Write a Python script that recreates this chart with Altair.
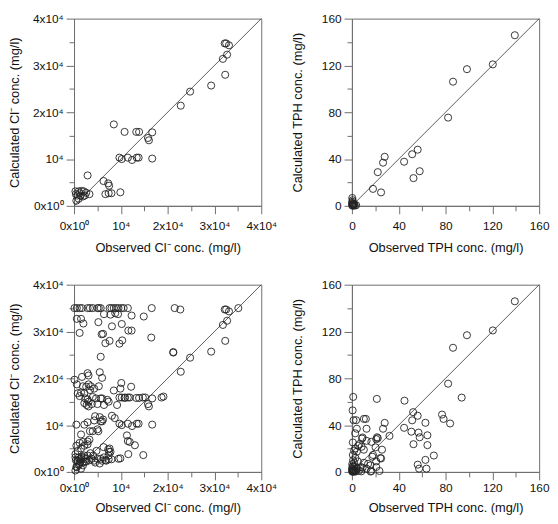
import altair as alt
import pandas as pd

# ---------------- data ----------------
# Top-left: Cl- (units of 1e4 mg/l)
tl_obs = [3.22, 3.25, 3.31, 3.27, 3.18, 3.23, 2.93, 2.48, 2.28, 0.85, 1.08, 1.33, 1.39, 1.67, 1.58,
          1.60, 0.97, 1.02, 1.15, 1.24, 1.34, 1.38, 1.67, 0.29, 0.63, 0.73, 0.75, 0.67, 0.74, 0.80,
          0.99, 0.03, 0.10, 0.16, 0.21, 0.26, 0.33, 0.07, 0.14, 0.19, 0.10, 0.05, 0.23, 0.04, 0.12]
tl_calc = [3.47, 3.47, 3.43, 3.23, 3.14, 2.80, 2.57, 2.44, 2.14, 1.74, 1.58, 1.58, 1.58, 1.57, 1.45,
           1.40, 1.03, 1.00, 1.03, 0.98, 1.03, 1.03, 1.01, 0.65, 0.53, 0.48, 0.43, 0.25, 0.27, 0.27,
           0.29, 0.31, 0.31, 0.32, 0.31, 0.28, 0.25, 0.22, 0.22, 0.20, 0.15, 0.11, 0.22, 0.25, 0.27]

# Bottom-left: additional Cl- points (units of 1e4 mg/l), shown together with the top-left ones
bl_obs_extra = [0.01, 0.06, 0.12, 0.17, 0.29, 0.34, 0.40, 0.50, 0.53, 0.57, 0.76, 0.80, 0.85, 0.90,
                0.95, 1.01, 1.06, 1.15, 1.66, 2.15, 2.27, 3.51,
                0.06, 0.15, 0.20, 0.12, 0.52, 0.64, 0.78, 0.81, 0.88, 0.94, 1.02, 1.23, 1.16, 1.23,
                1.49, 1.65, 0.59, 0.62, 0.67, 0.76, 0.97, 1.03, 0.57, 2.12, 2.12,
                0.01, 0.06, 0.17, 0.29, 0.31, 0.19, 0.26, 0.31, 0.36, 0.08, 0.15, 0.22, 0.34, 0.43,
                0.53, 0.55, 0.60, 1.01, 0.99, 1.22, 0.24, 0.29, 0.22, 0.27, 0.31, 0.38, 0.47, 0.57,
                0.60, 0.50, 0.64, 0.71, 0.74, 0.92, 0.97, 1.02, 1.09, 1.15, 1.19, 1.47, 1.52, 1.87,
                1.91, 0.31, 0.12, 0.40,
                0.05, 0.22, 0.29, 0.45, 0.55, 0.43, 0.57, 0.60, 0.62, 0.34, 0.40, 0.50, 0.52, 0.15,
                0.81, 0.87, 1.13, 1.15, 1.19, 1.30, 1.16, 1.48,
                0.05, 0.12, 0.19, 0.33, 0.29, 0.22, 0.15, 0.08, 0.03, 0.08, 0.15, 0.22, 0.29, 0.12,
                0.26, 0.38, 0.41, 0.43, 0.50, 0.57, 0.60, 0.64, 0.69, 0.76, 0.78, 0.74, 0.95, 0.19,
                0.06, 0.15, 0.03, 0.45, 0.55, 0.35, 0.48]
bl_calc_extra = [3.50, 3.50, 3.50, 3.50, 3.50, 3.50, 3.50, 3.50, 3.50, 3.50, 3.50, 3.50, 3.50, 3.50,
                 3.50, 3.50, 3.50, 3.50, 3.50, 3.50, 3.47, 3.50,
                 3.27, 3.27, 3.17, 2.97, 3.20, 3.37, 3.36, 3.11, 3.39, 3.37, 3.16, 3.34, 3.02, 3.02,
                 3.32, 2.87, 2.94, 2.95, 2.75, 2.80, 2.74, 2.81, 2.46, 2.55, 2.56,
                 1.97, 1.87, 2.03, 2.11, 2.06, 1.83, 1.82, 1.87, 1.83, 1.68, 1.70, 1.68, 1.75, 1.78,
                 1.83, 2.13, 2.01, 1.90, 1.78, 1.82, 1.57, 1.55, 1.47, 1.43, 1.50, 1.45, 1.57, 1.57,
                 1.57, 1.45, 1.43, 1.54, 1.50, 1.43, 1.59, 1.59, 1.59, 1.59, 1.59, 1.59, 1.59, 1.59,
                 1.61, 1.40, 1.62, 1.60,
                 1.01, 1.01, 1.06, 1.19, 1.17, 1.10, 1.08, 1.08, 1.12, 0.87, 0.87, 0.91, 0.87, 0.80,
                 1.20, 1.15, 0.78, 0.66, 0.64, 0.57, 0.38, 0.36,
                 0.56, 0.62, 0.64, 0.69, 0.59, 0.56, 0.50, 0.45, 0.38, 0.24, 0.28, 0.35, 0.35, 0.17,
                 0.22, 0.28, 0.35, 0.24, 0.28, 0.28, 0.24, 0.31, 0.24, 0.50, 0.43, 0.35, 0.28, 0.14,
                 0.10, 0.07, 0.03, 0.20, 0.18, 0.40, 0.45]

# Top-right: TPH (mg/l)
tr_obs = [139.2, 120.4, 98.3, 86.4, 82.2, 56.2, 51.5, 44.6, 57.9, 52.6, 28.0, 26.6, 22.1, 18.0, 24.9,
          0.3, 0.5, 1.0, 0.2, 1.5, 3.6, 0.8, 0.3, 2.0, 0.6, 1.2, 0.1, 2.5]
tr_calc = [145.8, 120.9, 116.8, 106.1, 75.4, 48.0, 44.1, 37.7, 29.6, 23.7, 41.9, 36.9, 28.8, 14.5, 11.5,
           6.7, 3.5, 2.0, 1.0, 0.5, 0.6, 0.3, 0.2, 1.5, 4.8, 1.2, 2.5, 0.2]

# Bottom-right: additional TPH points (mg/l), shown together with the top-right ones
br_obs_extra = [93.8, 77.0, 78.3, 83.9, 62.8, 64.5, 64.5, 70.0, 62.8, 63.7, 56.2, 57.4, 56.9, 50.8,
                52.3, 44.9, 21.3, 1.1, 0.6, 1.4, 3.6, 10.2, 11.9, 4.2, 12.5, 2.8, 32.1, 20.8, 9.1,
                12.5, 16.6, 0.8, 6.4, 5.3, 8.3, 2.8, 1.9, 4.2, 10.2, 20.2, 25.7, 20.8, 15.8, 10.2,
                7.5, 12.5, 16.6, 23.5, 20.8, 4.7, 1.9, 0.8, 3.0, 5.0, 2.0, 3.5, 6.0, 8.0, 1.0, 24.3,
                17.4, 13.8, 9.1, 16.0, 8.6, 21.5]
br_calc_extra = [63.5, 49.0, 45.3, 41.4, 42.0, 31.3, 22.9, 14.0, 10.3, 2.8, 6.2, 2.8, 33.6, 34.4,
                 51.1, 60.9, 62.4, 64.1, 52.6, 44.2, 44.2, 45.3, 45.3, 36.9, 36.9, 33.0, 30.8, 28.0, 29.4,
                 26.6, 25.7, 25.2, 23.8, 22.4, 21.5, 20.1, 18.2, 17.3, 19.0, 21.0, 19.0, 9.0, 5.6, 7.8,
                 4.2, 2.8, 0.8, 0.8, 4.2, 2.8, 7.8, 14.5, 12.0, 9.0, 5.0, 3.0, 1.0, 0.5, 10.0, 11.9,
                 13.0, 6.9, 3.6, 0.3, 28.5, 29.6]

cl_ticks = [0, 5000, 10000, 15000, 20000, 25000, 30000, 35000, 40000]
tph_ticks = [0, 20, 40, 60, 80, 100, 120, 140, 160]

CL_MAX = 40000
TPH_MAX = 160

FONT = "Liberation Sans"
FRAME = "#6e6e6e"
INK = "#111111"

tl_df = pd.DataFrame({"obs": [v * 1e4 for v in tl_obs], "calc": [v * 1e4 for v in tl_calc]})
bl_df = pd.DataFrame({"obs": [v * 1e4 for v in tl_obs + bl_obs_extra],
                      "calc": [v * 1e4 for v in tl_calc + bl_calc_extra]})
tr_df = pd.DataFrame({"obs": tr_obs, "calc": tr_calc})
br_df = pd.DataFrame({"obs": tr_obs + br_obs_extra, "calc": tr_calc + br_calc_extra})

cl_label = ("datum.value == 0 ? '0x10\u2070' : datum.value == 10000 ? '10\u2074' : "
            "datum.value % 10000 == 0 ? (datum.value / 10000) + 'x10\u2074' : ''")
tph_label = "datum.value % 40 == 0 ? datum.value : ''"


def make_axis(title, values, label_expr, major, label_pad, title_pad):
    return alt.Axis(
        title=title, values=values, labelExpr=label_expr,
        tickSize={"condition": {"test": f"datum.value % {major} == 0", "value": 8}, "value": 5},
        tickColor=FRAME, domainColor=FRAME, tickWidth=1, domainWidth=1,
        labelPadding=label_pad, titlePadding=title_pad,
        labelFlush=False, labelOverlap=False, grid=False,
        labelFont=FONT, labelFontSize=12, labelColor=INK,
        titleFont=FONT, titleFontSize=13, titleFontWeight="normal", titleColor=INK,
    )


def panel(df, vmax, ticks, label_expr, major, xtitle, ytitle, xlab_pad, xtitle_pad, ytitle_pad):
    sc = alt.Scale(domain=[0, vmax], nice=False, zero=True)
    ax_x = make_axis(xtitle, ticks, label_expr, major, xlab_pad, xtitle_pad)
    ax_y = make_axis(ytitle, ticks, label_expr, major, 3, ytitle_pad)
    line_df = pd.DataFrame({"obs": [0, vmax], "calc": [0, vmax]})
    line = alt.Chart(line_df).mark_line(color="#333333", strokeWidth=0.8).encode(
        x=alt.X("obs:Q", scale=sc, axis=ax_x),
        y=alt.Y("calc:Q", scale=sc, axis=ax_y),
    )
    pts = alt.Chart(df).mark_point(shape="circle", filled=False, size=52, strokeWidth=0.9,
                                   color="#222222", opacity=1).encode(
        x=alt.X("obs:Q", scale=sc, axis=ax_x),
        y=alt.Y("calc:Q", scale=sc, axis=ax_y),
    )
    return alt.layer(line, pts).properties(width=190, height=190)


cl_x = "Observed Cl\u207b conc. (mg/l)"
cl_y = "Calculated Cl\u207b conc. (mg/l)"
tph_x = "Observed TPH conc. (mg/l)"
tph_y = "Calculated TPH conc. (mg/l)"

tl = panel(tl_df, CL_MAX, cl_ticks, cl_label, 10000, cl_x, cl_y, 7, 10, 11)
tr = panel(tr_df, TPH_MAX, tph_ticks, tph_label, 40, tph_x, tph_y, 7, 10, 17)
bl = panel(bl_df, CL_MAX, cl_ticks, cl_label, 10000, cl_x, cl_y, 3, 8, 11)
br = panel(br_df, TPH_MAX, tph_ticks, tph_label, 40, tph_x, tph_y, 3, 8, 17)

chart = alt.concat(tl, tr, bl, br, columns=2, spacing={"row": 80, "column": 92},
                   bounds="flush").properties(
    padding=0, background="white"
).configure_view(stroke=FRAME, strokeWidth=1)

chart.save("out.html", embed_options={"renderer": "svg", "actions": False})
